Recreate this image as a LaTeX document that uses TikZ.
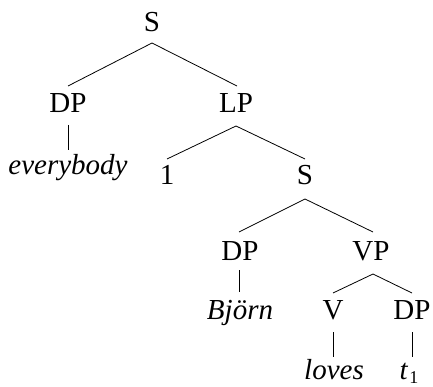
\documentclass[tikz,border=0pt]{standalone}
\usepackage{fontspec}
\setmainfont{Liberation Serif}
\begin{document}
\begin{tikzpicture}[x=1pt,y=-1pt,
  lab/.style={anchor=base,inner sep=0pt,font=\fontsize{29}{34}\selectfont},
  br/.style={draw=black,line width=0.8pt}]
\useasboundingbox (0,0) rectangle (433,387);
\node[lab] (S0) at (152,32) {S};
\node[lab] (DP1) at (68,113) {DP};
\node[lab] (LP) at (236,113) {LP};
\node[lab] (ev) at (68,175) {\itshape everybody};
\node[lab] (one) at (167,185) {1};
\node[lab] (S2) at (305,185) {S};
\node[lab] (DP2) at (240,260) {DP};
\node[lab] (VP) at (371,260) {VP};
\node[lab] (bj) at (240,319) {\itshape Björn};
\node[lab] (V) at (333,319) {V};
\node[lab] (DP3) at (412,319) {DP};
\node[lab] (lv) at (334,379) {\itshape loves};
\node[lab] (t) at (409,379) {\itshape t\kern1.5pt\raisebox{-4.5pt}{\upshape\fontsize{18}{21}\selectfont 1}};
\path[br] ([yshift=-11pt]S0.base) -- ([yshift=27pt]DP1.base);
\path[br] ([yshift=-11pt]S0.base) -- ([yshift=27pt,xshift=1pt]LP.base);
\path[br] ([yshift=-12pt]DP1.base) -- ([yshift=25pt]ev.base);
\path[br] ([yshift=-13pt]LP.base) -- ([yshift=26pt]one.base);
\path[br] ([yshift=-13pt]LP.base) -- ([yshift=26pt]S2.base);
\path[br] ([yshift=-14pt]S2.base) -- ([yshift=28pt,xshift=-1pt]DP2.base);
\path[br] ([yshift=-14pt]S2.base) -- ([yshift=28pt,xshift=2pt]VP.base);
\path[br] ([yshift=-10pt,xshift=-1pt]DP2.base) -- ([yshift=27pt,xshift=-1pt]bj.base);
\path[br] ([yshift=-14pt,xshift=2pt]VP.base) -- ([yshift=26pt]V.base);
\path[br] ([yshift=-14pt,xshift=2pt]VP.base) -- ([yshift=26pt]DP3.base);
\path[br] ([yshift=-13pt]V.base) -- ([yshift=22pt,xshift=-1pt]lv.base);
\path[br] ([yshift=-13pt]DP3.base) -- ([yshift=22pt,xshift=3pt]t.base);
\end{tikzpicture}
\end{document}
